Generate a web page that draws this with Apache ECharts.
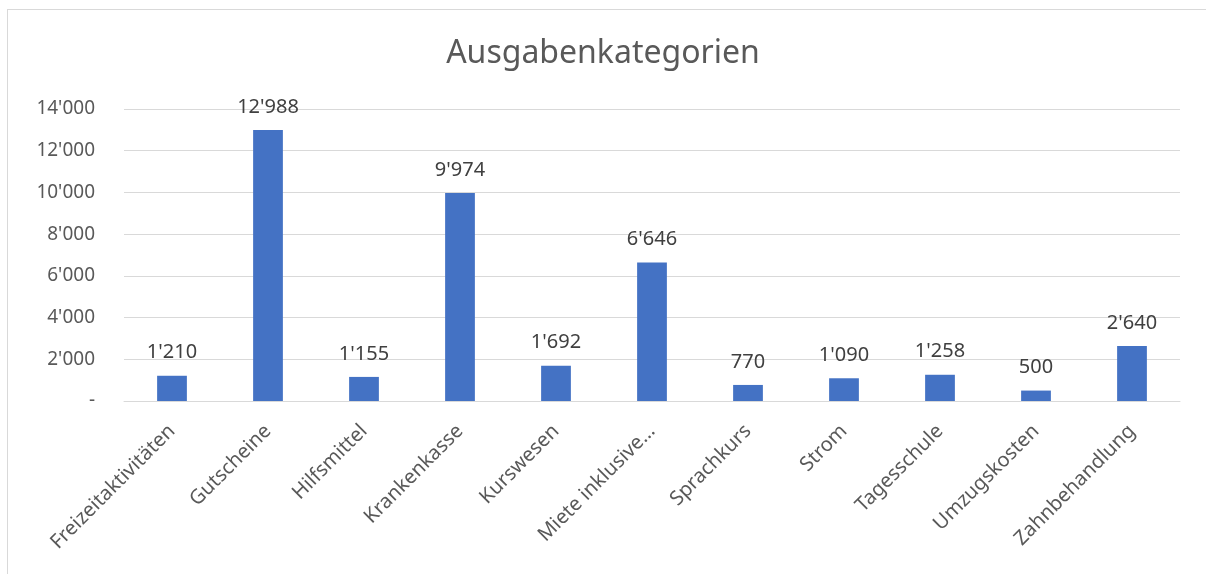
<!DOCTYPE html>
<html>
<head>
<meta charset="utf-8">
<script src="https://cdn.jsdelivr.net/npm/echarts@6/dist/echarts.min.js"></script>
<style>
  html, body { margin: 0; padding: 0; background: #fff; }
  #frame { position: absolute; left: 7px; top: 9px; width: 1220px; height: 600px; border: 1px solid #d9d9d9; }
  #chart { position: absolute; left: 0; top: 0; width: 1206px; height: 574px; }
</style>
</head>
<body>
<div id="frame"></div>
<div id="chart"></div>
<script>
const categories = [
  'Freizeitaktivitäten', 'Gutscheine', 'Hilfsmittel', 'Krankenkasse', 'Kurswesen',
  'Miete inklusive…', 'Sprachkurs', 'Strom', 'Tagesschule', 'Umzugskosten', 'Zahnbehandlung'
];
const amounts = [1210, 12988, 1155, 9974, 1692, 6646, 770, 1090, 1258, 500, 2640];

const fmt = (v) => {
  if (v === 0) return '-';
  return String(Math.round(v)).replace(/\B(?=(\d{3})+(?!\d))/g, "'");
};

const chart = echarts.init(document.getElementById('chart'));
const font = 'Noto Sans, Open Sans, sans-serif';
chart.setOption({
  animation: false,
  title: {
    text: 'Ausgabenkategorien',
    left: 'center',
    top: 33,
    textStyle: { fontFamily: font, fontSize: 32, fontWeight: 'normal', color: '#595959' }
  },
  grid: { left: 124, right: 26, top: 109, bottom: 173, containLabel: false },
  xAxis: {
    type: 'category',
    data: categories,
    axisLine: { lineStyle: { color: '#d9d9d9', width: 1 } },
    axisTick: { show: false },
    axisLabel: {
      rotate: 45,
      interval: 0,
      margin: 27,
      fontFamily: font,
      fontSize: 20,
      color: '#595959'
    }
  },
  yAxis: {
    type: 'value',
    min: 0,
    max: 14000,
    interval: 2000,
    axisLine: { show: false },
    axisTick: { show: false },
    splitLine: { lineStyle: { color: '#d9d9d9', width: 1 } },
    axisLabel: {
      formatter: fmt,
      margin: 29,
      fontFamily: font,
      fontSize: 19,
      color: '#595959'
    }
  },
  series: [{
    type: 'bar',
    data: amounts,
    barWidth: '31%',
    itemStyle: { color: '#4472c4' },
    label: {
      show: true,
      position: 'top',
      distance: 13,
      formatter: (p) => fmt(p.value),
      fontFamily: font,
      fontSize: 20,
      color: '#404040'
    }
  }]
});
</script>
</body>
</html>
